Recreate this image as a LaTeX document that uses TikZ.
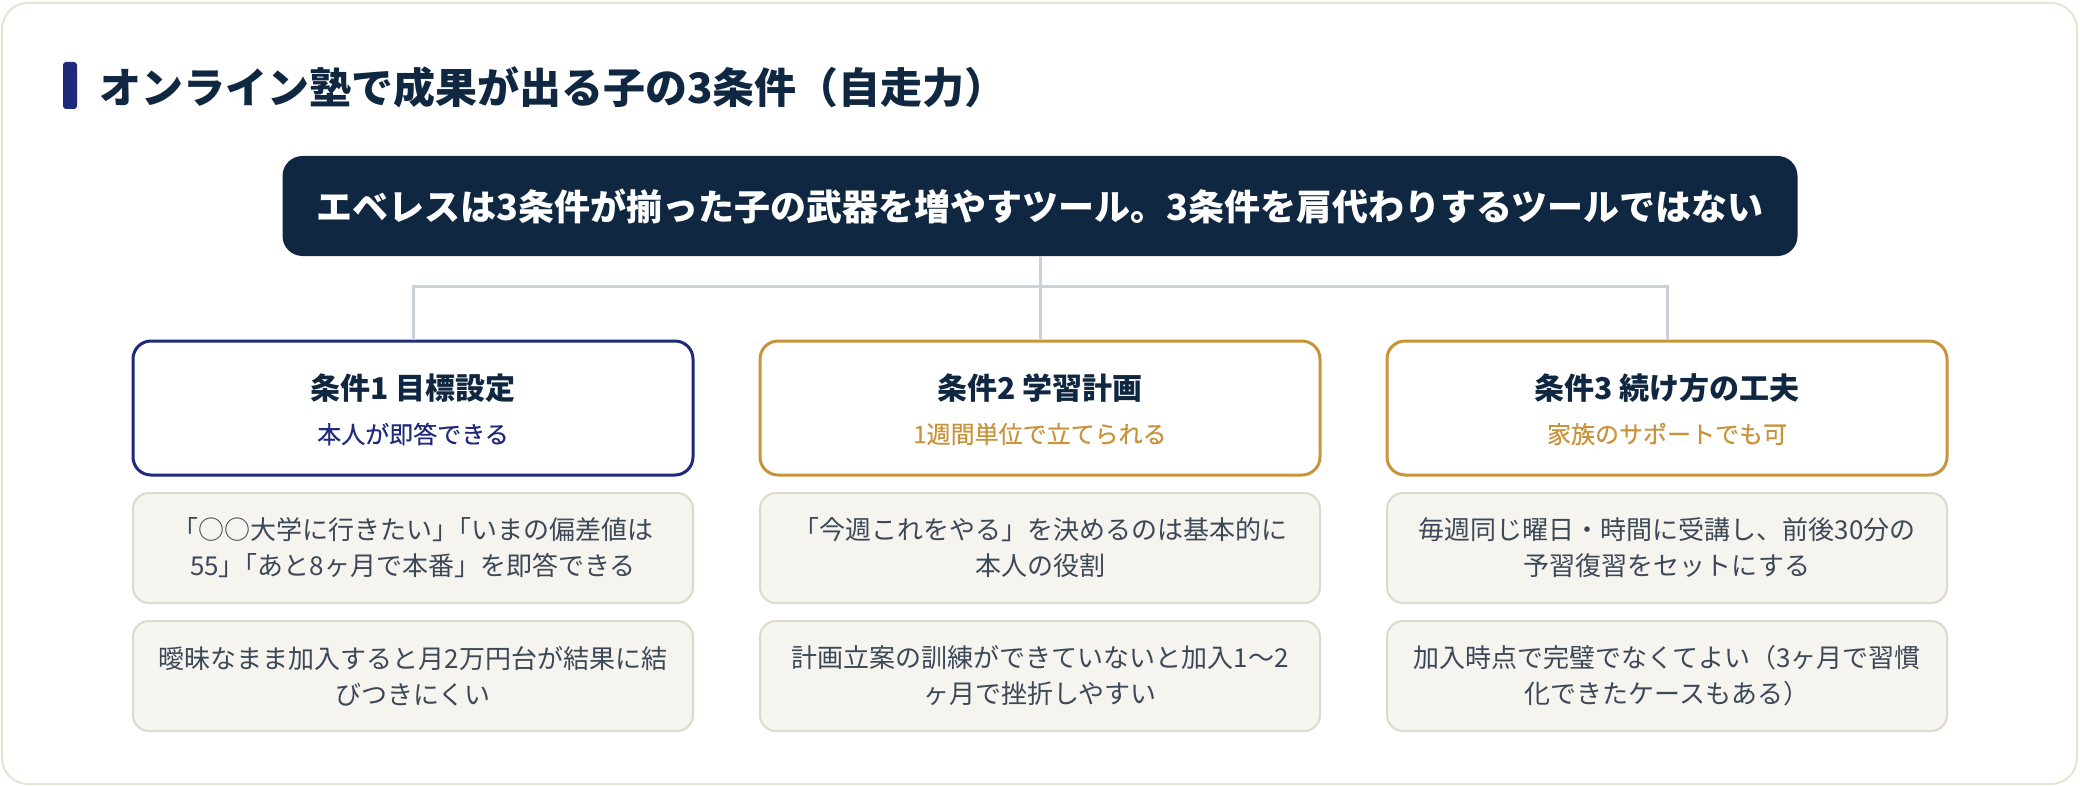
\documentclass[tikz,border=0pt]{standalone}
\usepackage{fontspec}
\setmainfont{Noto Sans CJK JP}
\newfontfamily\subfont{Noto Sans CJK JP}[FakeBold=0.35]
\usetikzlibrary{positioning}
\definecolor{ink}{HTML}{0F2740}
\definecolor{indigo}{HTML}{1F2A7C}
\definecolor{gold}{HTML}{C8933A}
\definecolor{paper}{HTML}{F5F4EF}
\definecolor{paperline}{HTML}{DDD9CC}
\definecolor{cardline}{HTML}{E6E2D4}
\definecolor{linkgray}{HTML}{CBD1DB}
\definecolor{bodytext}{HTML}{3D4857}
\newcommand{\trim}{\kern-.5em}

\begin{document}
\begin{tikzpicture}[x=0.5pt, y=-0.5pt,
	head/.style={draw, line width=1.5pt, fill=white, rounded corners=9pt, minimum width=280pt, minimum height=67pt},
	headtitle/.style={text=ink, font=\bfseries\fontsize{15}{18}\selectfont},
	headsub/.style={font=\subfont\fontsize{12}{14}\selectfont},
	note/.style={draw=paperline, line width=1pt, fill=paper, rounded corners=8pt, minimum width=280pt, minimum height=55pt, align=center, text=bodytext, font=\fontsize{13}{18}\selectfont},
	link/.style={linkgray, line width=1.5pt}]
	\useasboundingbox (0,0) rectangle (2080,786);
	\draw[cardline, line width=1pt, fill=white, rounded corners=13pt] (2,3) rectangle (2077,784);
	\fill[indigo, rounded corners=1.5pt] (63,62) rectangle (77,109);
	\node[anchor=west, text=ink, font=\bfseries\fontsize{21}{25}\selectfont] (title) at (92,87) {オンライン塾で成果が出る子の3条件（自走力）};
	\node[fill=ink, rounded corners=10pt, minimum width=757.5pt, minimum height=50pt, text=white, font=\bfseries\fontsize{18}{20}\selectfont] (tool) at (1040,206) {エベレスは3条件が揃った子の武器を増やすツール。3条件を肩代わりするツールではない};
	% three conditions
	\node[head, draw=indigo] (h1) at (413,408) {};
	\node[head, draw=gold] (h2) at (1040,408) {};
	\node[head, draw=gold] (h3) at (1667,408) {};
	\node[headtitle] (h1t) at (413,388) {条件1 目標設定};
	\node[headsub, text=indigo] (h1s) at (413,434) {本人が即答できる};
	\node[headtitle] (h2t) at (1040,388) {条件2 学習計画};
	\node[headsub, text=gold] (h2s) at (1040,434) {1週間単位で立てられる};
	\node[headtitle] (h3t) at (1667,388) {条件3 続け方の工夫};
	\node[headsub, text=gold] (h3s) at (1667,434) {家族のサポートでも可};
	\foreach \h in {h1,h2,h3} {\draw[link] (tool.south) -- ++(0,30) -| (\h.north);}
	% notes
	\node[note] (n1a) at (413,548) {「○○大学に行きたい」\trim「いまの偏差値は\\55」\trim「あと8ヶ月で本番」を即答できる};
	\node[note] (n1b) at (413,676) {曖昧なまま加入すると月2万円台が結果に結\\びつきにくい};
	\node[note] (n2a) at (1040,548) {「今週これをやる」を決めるのは基本的に\\本人の役割};
	\node[note] (n2b) at (1040,676) {計画立案の訓練ができていないと加入1〜2\\ヶ月で挫折しやすい};
	\node[note] (n3a) at (1667,548) {毎週同じ曜日・時間に受講し、前後30分の\\予習復習をセットにする};
	\node[note] (n3b) at (1667,676) {加入時点で完璧でなくてよい（3ヶ月で習慣\\化できたケースもある）};
\end{tikzpicture}
\end{document}
